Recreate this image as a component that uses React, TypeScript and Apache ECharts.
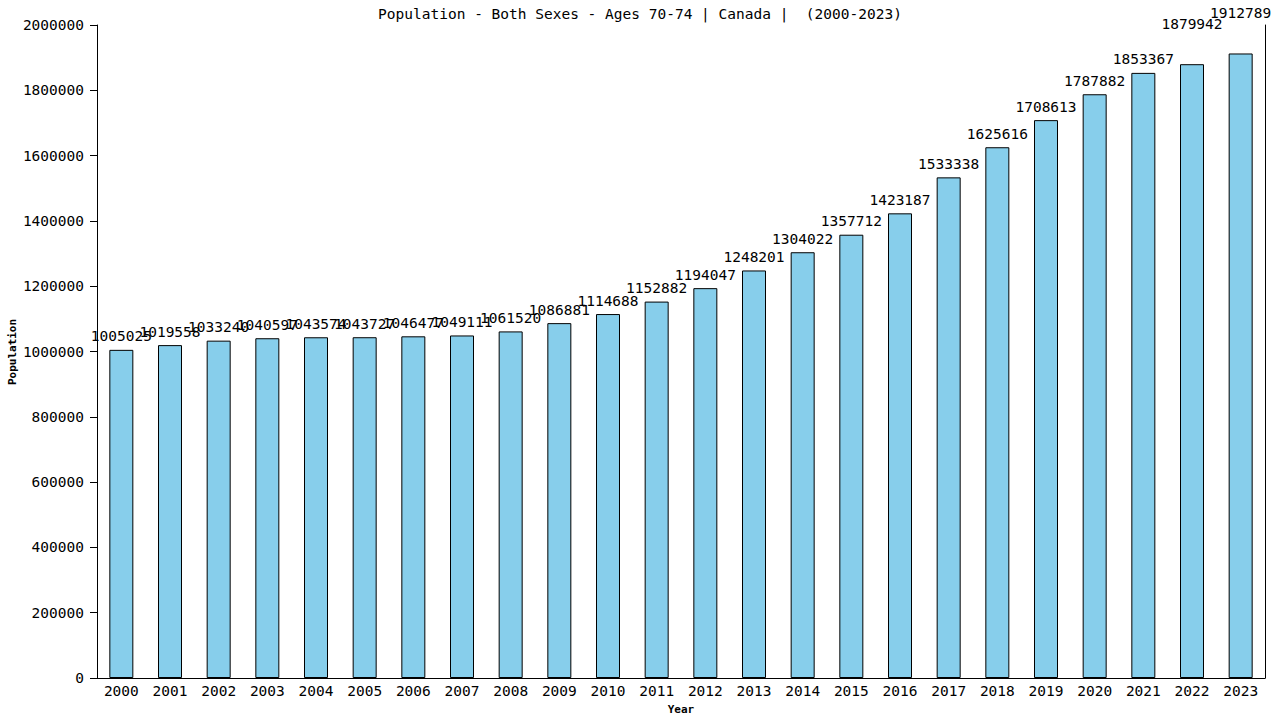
import React, { useRef, useEffect } from 'react';
import * as echarts from 'echarts';

const years = [
  '2000', '2001', '2002', '2003', '2004', '2005', '2006', '2007', '2008', '2009', '2010', '2011',
  '2012', '2013', '2014', '2015', '2016', '2017', '2018', '2019', '2020', '2021', '2022', '2023',
];

const population = [
  1005025, 1019558, 1033240, 1040597, 1043574, 1043727, 1046477, 1049111, 1061520, 1086881, 1114688, 1152882,
  1194047, 1248201, 1304022, 1357712, 1423187, 1533338, 1625616, 1708613, 1787882, 1853367, 1879942, 1912789,
];

// labels that the original lifts clear of their neighbours
const raisedLabels = ['2022', '2023'];

const FONT = '"DejaVu Sans Mono", monospace';

const App: React.FC = () => {
  const chartRef = useRef<HTMLDivElement>(null);

  useEffect(() => {
    if (!chartRef.current) return;
    const chart = echarts.init(chartRef.current, null, { renderer: 'svg' });

    const option: any = {
      animation: false,
      backgroundColor: '#fff',
      title: {
        text: 'Population - Both Sexes - Ages 70-74 | Canada |  (2000-2023)',
        left: 'center',
        top: 1,
        textStyle: { fontFamily: FONT, fontSize: 14.5, fontWeight: 'normal', color: '#000' },
      },
      grid: { left: 97, right: 15, top: 25, bottom: 42, containLabel: false, outerBoundsMode: 'none' },
      graphic: [
        {
          type: 'text',
          x: 12,
          y: 352,
          rotation: Math.PI / 2,
          style: {
            text: 'Population',
            fontFamily: FONT,
            fontSize: 11,
            fontWeight: 'bold',
            fill: '#000',
            align: 'center',
            verticalAlign: 'middle',
          },
        },
      ],
      xAxis: {
        type: 'category',
        data: years,
        name: 'Year',
        nameLocation: 'middle',
        nameGap: 26,
        nameMoveOverlap: false,
        nameTextStyle: { fontFamily: FONT, fontSize: 11, fontWeight: 'bold', color: '#000' },
        axisLine: { lineStyle: { color: '#000', width: 1 } },
        axisTick: { show: false },
        axisLabel: { fontFamily: FONT, fontSize: 14.5, color: '#000', margin: 5 },
      },
      yAxis: [
        {
          type: 'value',
          min: 0,
          max: 2000000,
          interval: 200000,
          axisLine: { show: true, lineStyle: { color: '#000', width: 1 } },
          axisTick: { show: true, length: 7, lineStyle: { color: '#000' } },
          axisLabel: { fontFamily: FONT, fontSize: 14.5, color: '#000', margin: 13, formatter: (v: number) => String(v) },
          splitLine: { show: false },
        },
        {
          type: 'value',
          position: 'right',
          min: 0,
          max: 2000000,
          interval: 200000,
          axisLine: { show: true, lineStyle: { color: '#000', width: 1 } },
          axisTick: { show: false },
          axisLabel: { show: false },
          splitLine: { show: false },
        },
      ],
      series: [
        {
          type: 'bar',
          yAxisIndex: 0,
          barWidth: 24,
          data: population.map((v, i) => ({
            value: v,
            label: raisedLabels.includes(years[i]) ? { offset: [0, -27] } : undefined,
          })),
          itemStyle: { color: '#87CEEB', borderColor: '#000', borderWidth: 1 },
          label: {
            show: true,
            position: 'top',
            distance: 6,
            fontFamily: FONT,
            fontSize: 14.5,
            color: '#000',
          },
        },
      ],
    };

    chart.setOption(option);

    return () => {
      chart.dispose();
    };
  }, []);

  return <div ref={chartRef} style={{ width: 1280, height: 720, position: 'absolute', left: 0, top: 0 }} />;
};

export default App;
